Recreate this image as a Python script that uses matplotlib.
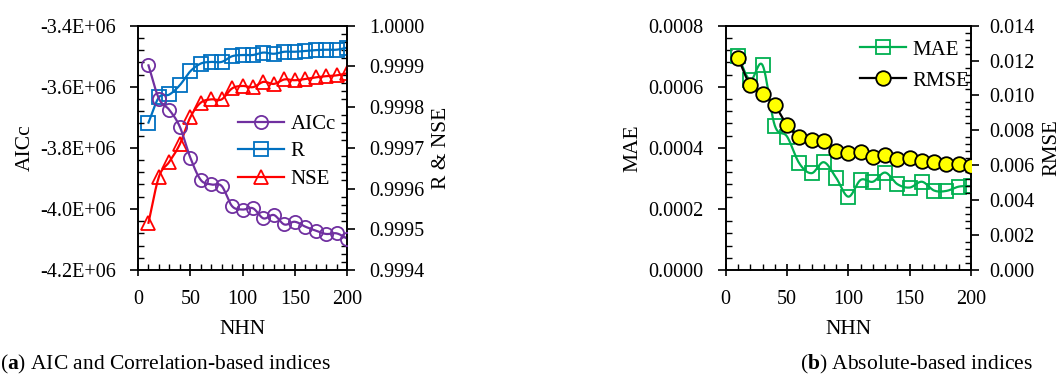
import numpy as np
import matplotlib
matplotlib.use("Agg")
import matplotlib.pyplot as plt
from matplotlib.ticker import MultipleLocator, FuncFormatter

plt.rcParams['font.family'] = ['Liberation Serif', 'DejaVu Serif']
plt.rcParams['mathtext.fontset'] = 'custom'
plt.rcParams['mathtext.rm'] = 'Liberation Serif'
plt.rcParams['mathtext.bf'] = 'Liberation Serif:bold'

nhn = [10, 20, 30, 40, 50, 60, 70, 80, 90, 100, 110, 120, 130, 140, 150, 160, 170, 180, 190, 200]
aicc = [-3.530e6, -3.639e6, -3.676e6, -3.731e6, -3.832e6, -3.905e6, -3.920e6, -3.925e6, -3.991e6, -4.002e6,
        -3.998e6, -4.031e6, -4.020e6, -4.051e6, -4.042e6, -4.058e6, -4.071e6, -4.082e6, -4.080e6, -4.097e6]
r_vals = [0.999762, 0.999824, 0.999831, 0.999854, 0.999888, 0.999907, 0.999911, 0.999911, 0.999925, 0.999928,
          0.999928, 0.999934, 0.999931, 0.999936, 0.999936, 0.999938, 0.999940, 0.999941, 0.999941, 0.999946]
nse = [0.999516, 0.999629, 0.999666, 0.999709, 0.999775, 0.999811, 0.999819, 0.999819, 0.999846, 0.999852,
       0.999849, 0.999862, 0.999857, 0.999868, 0.999866, 0.999869, 0.999873, 0.999876, 0.999878, 0.999883]
mae = [0.000701, 0.000622, 0.000671, 0.000473, 0.000437, 0.000349, 0.000317, 0.000353, 0.000302, 0.000240,
       0.000295, 0.000289, 0.000319, 0.000281, 0.000270, 0.000289, 0.000260, 0.000259, 0.000273, 0.000275]
rmse = [0.01217, 0.01060, 0.01009, 0.00944, 0.00831, 0.00762, 0.00745, 0.00741, 0.00682, 0.00672,
        0.00678, 0.00650, 0.00659, 0.00634, 0.00640, 0.00627, 0.00617, 0.00607, 0.00607, 0.00598]

C_AIC = '#7030A0'
C_R = '#0070C0'
C_NSE = '#FF0000'
C_MAE = '#00B050'

TICK_FS = 14.5
LABEL_FS = 15.5
LEG_FS = 15


def smooth(x, y, n=12):
    x = np.asarray(x, float)
    y = np.asarray(y, float)
    xs, ys = [], []
    for i in range(len(x) - 1):
        x0 = x[i - 1] if i > 0 else 2 * x[0] - x[1]
        y0 = y[i - 1] if i > 0 else 2 * y[0] - y[1]
        x3 = x[i + 2] if i + 2 < len(x) else 2 * x[-1] - x[-2]
        y3 = y[i + 2] if i + 2 < len(y) else 2 * y[-1] - y[-2]
        t = np.linspace(0, 1, n, endpoint=False)
        for p0, p1, p2, p3, out in ((x0, x[i], x[i + 1], x3, xs), (y0, y[i], y[i + 1], y3, ys)):
            out.extend(0.5 * ((2 * p1) + (-p0 + p2) * t + (2 * p0 - 5 * p1 + 4 * p2 - p3) * t ** 2
                              + (-p0 + 3 * p1 - 3 * p2 + p3) * t ** 3))
    xs.append(x[-1])
    ys.append(y[-1])
    return np.array(xs), np.array(ys)


def series(ax, x, y, color, marker, label, mfc='none', mec=None, ms=9.5):
    sx, sy = smooth(x, y)
    ax.plot(sx, sy, color=color, lw=1.6, zorder=2)
    ax.plot(x, y, ls='none', marker=marker, ms=ms, mfc=mfc, mec=mec or color, mew=1.3, zorder=3)
    return ax.plot([], [], color=color, lw=1.6, marker=marker, ms=ms, mfc=mfc, mec=mec or color, mew=1.3,
                   label=label)[0]


def style(ax, pad=10):
    ax.tick_params(axis='both', which='major', labelsize=TICK_FS, length=6, width=1.2, direction='out', pad=pad)
    ax.tick_params(axis='both', which='minor', length=4, width=1.0, direction='in')
    ax.tick_params(axis='x', which='major', direction='inout', length=9, pad=10)
    for s in ax.spines.values():
        s.set_linewidth(1.2)


fig = plt.figure(figsize=(10.61, 3.85), dpi=100)

# ---------- panel a ----------
ax1 = fig.add_axes([0.1301, 0.2987, 0.1970, 0.6346])
ax1b = ax1.twinx()
ax1.set_xlim(0, 200)
ax1.set_ylim(-4.2e6, -3.4e6)
ax1b.set_ylim(0.9994, 1.0000)
ax1.xaxis.set_major_locator(MultipleLocator(50))
ax1.xaxis.set_minor_locator(MultipleLocator(10))
ax1.yaxis.set_major_locator(MultipleLocator(0.2e6))
ax1.yaxis.set_minor_locator(MultipleLocator(0.04e6))
ax1b.yaxis.set_major_locator(MultipleLocator(0.0001))
ax1b.yaxis.set_minor_locator(MultipleLocator(0.00002))
ax1.yaxis.set_major_formatter(FuncFormatter(lambda v, p: ('%.1E' % v).replace('E+6', 'E+06')))
ax1b.yaxis.set_major_formatter(FuncFormatter(lambda v, p: '%.4f' % v))
style(ax1)
style(ax1b)

h1 = series(ax1, nhn, aicc, C_AIC, 'o', 'AICc')
h2 = series(ax1b, nhn, r_vals, C_R, 's', 'R')
h3 = series(ax1b, nhn, nse, C_NSE, '^', 'NSE')
ax1.set_zorder(ax1b.get_zorder() + 1)
ax1.patch.set_visible(False)
ax1.set_xlabel('NHN', fontsize=LABEL_FS, labelpad=8)
ax1.set_ylabel('AICc', fontsize=LABEL_FS, labelpad=4)
fig.text(442 / 1061, 1 - 148 / 385, 'R & NSE', fontsize=LABEL_FS, rotation=90, ha='center', va='center')
ax1.legend(handles=[h1, h2, h3], loc='center left', bbox_to_anchor=(0.44, 0.485), frameon=False,
           fontsize=LEG_FS, handlelength=2.2, labelspacing=0.38, handletextpad=0.3, borderaxespad=0)

# ---------- panel b ----------
ax2 = fig.add_axes([0.6840, 0.2987, 0.2312, 0.6346])
ax2b = ax2.twinx()
ax2.set_xlim(0, 200)
ax2.set_ylim(0, 0.0008)
ax2b.set_ylim(0, 0.014)
ax2.xaxis.set_major_locator(MultipleLocator(50))
ax2.xaxis.set_minor_locator(MultipleLocator(10))
ax2.yaxis.set_major_locator(MultipleLocator(0.0002))
ax2.yaxis.set_minor_locator(MultipleLocator(0.00004))
ax2b.yaxis.set_major_locator(MultipleLocator(0.002))
ax2b.yaxis.set_minor_locator(MultipleLocator(0.0004))
ax2.yaxis.set_major_formatter(FuncFormatter(lambda v, p: '%.4f' % v))
ax2b.yaxis.set_major_formatter(FuncFormatter(lambda v, p: '%.3f' % v))
style(ax2)
style(ax2b, pad=7)

h4 = series(ax2, nhn, mae, C_MAE, 's', 'MAE')
h5 = series(ax2b, nhn, rmse, 'black', 'o', 'RMSE', mfc='#FFFF00', mec='black', ms=10.5)
ax2.set_xlabel('NHN', fontsize=LABEL_FS, labelpad=8)
ax2.set_ylabel('MAE', fontsize=LABEL_FS, labelpad=4)
fig.text(1052 / 1061, 1 - 148 / 385, 'RMSE', fontsize=15, rotation=90, ha='center', va='center')
ax2b.legend(handles=[h4, h5], loc='upper left', bbox_to_anchor=(0.515, 0.975), frameon=False,
            fontsize=LEG_FS, handlelength=2.2, labelspacing=0.55, handletextpad=0.3, borderaxespad=0)

# ---------- captions ----------
fig.text(165 / 1061, 0.052, r'($\mathbf{a}$) AIC and Correlation-based indices', fontsize=15.5,
         ha='center', va='center')
fig.text(916 / 1061, 0.052, r'($\mathbf{b}$) Absolute-based indices', fontsize=15.5, ha='center', va='center')

fig.savefig('out.png', dpi=100)
